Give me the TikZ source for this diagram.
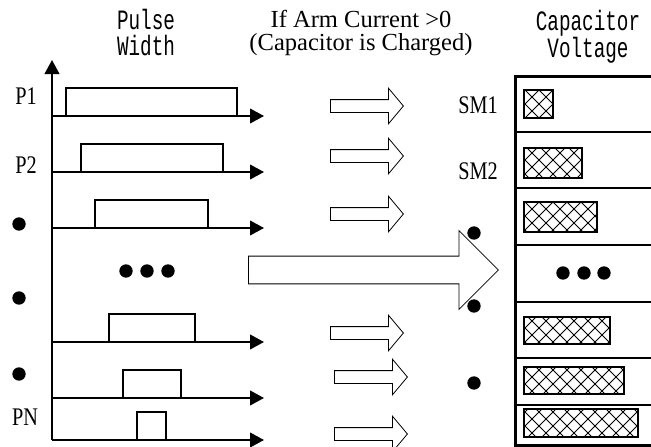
\documentclass[tikz,border=0pt]{standalone}
\usepackage{fontspec}
\setmainfont{Liberation Serif}
\newfontfamily\monofont[FakeStretch=0.69]{Liberation Mono}
\newfontfamily\narrowfont[FakeStretch=0.8]{Liberation Serif}
\usetikzlibrary{arrows.meta,shapes.arrows,patterns.meta}

\tikzdeclarepattern{
  name=xhatch,
  type=uncolored,
  bounding box={(-0.5pt,-0.5pt) and (11pt,11pt)},
  tile size={(10.5pt,10.5pt)},
  code={
    \draw[line width=0.6pt] (0pt,0pt) -- (10.5pt,10.5pt) (0pt,10.5pt) -- (10.5pt,0pt);
  }
}

\begin{document}
\begin{tikzpicture}[x=0.75pt, y=-0.75pt,
    axis/.style={line width=1.5pt, -{Triangle[length=10.5pt, width=11pt]}},
    pulse/.style={line width=1.5pt},
    lbl/.style={font=\narrowfont\fontsize{19}{20}\selectfont, inner sep=0pt},
    head/.style={font=\monofont\fontsize{21}{19.5}\selectfont, align=center, inner sep=0pt},
    note/.style={font=\fontsize{18.4}{17.25}\selectfont, align=center, inner sep=0pt},
    dot/.style={circle, fill, inner sep=0pt, minimum size=10pt},
    smallarr/.style={single arrow, draw, line width=0.6pt, minimum height=54.75pt, inner sep=4.5pt,
        single arrow head extend=8.6pt, single arrow tip angle=100, anchor=tail},
    bigarr/.style={single arrow, draw, line width=0.6pt, minimum height=187.5pt, inner sep=10.1pt,
        single arrow head extend=19.1pt, anchor=tail},
    bar/.style={draw, line width=1.5pt, pattern=xhatch}
]
\useasboundingbox (0,0) rectangle (651,447);

% pulse width side
\draw[axis] (52,440) -- (52,60);
\foreach \y/\w in {116/85.5, 172/71, 228/56.5, 342/43, 398/29, 440/14.5} {
  \draw[axis] (52,\y) -- (264,\y);
  \draw[pulse] (151.5-\w,\y) |- (151.5+\w,\y-28) -- (151.5+\w,\y);
}
\node[lbl] (p1) at (26,96) {P1};
\node[lbl] (p2) at (26,165) {P2};
\node[lbl] (pn) at (25,417) {PN};
\foreach \y [count=\i] in {224,298,374}
  \node[dot] (ld\i) at (19,\y) {};
\foreach \x [count=\i] in {126,147,168}
  \node[dot] (le\i) at (\x,271) {};

% headings
\node[head] (pw) at (146,33) {Pulse\\Width};
\node[note] (cond) at (361,33) {If Arm Current >0\\(Capacitor is Charged)};
\node[head] (cv) at (588,36.5) {Capacitor\\Voltage};

% charging arrows
\foreach \x/\y [count=\i] in {330/106, 330/156, 330/214, 330/333, 334/377, 334/434}
  \node[smallarr] (a\i) at (\x,\y) {};
\node[bigarr] (big) at (248,270) {};

% capacitor voltage side
\node[lbl] (sm1) at (478,105) {SM1};
\node[lbl] (sm2) at (478,171) {SM2};
\foreach \y [count=\i] in {233,306,383}
  \node[dot] (rd\i) at (474,\y) {};
\draw[line width=2.25pt] (651,76) -- (515,76) -- (515,445) -- (651,445);
\foreach \y in {132,188,245,302,358,405}
  \draw[line width=2pt] (515,\y) -- (651,\y);
\foreach \x/\ya/\yb in {553/90/118, 582/148/178, 597/202/232, 610/317/344, 624/367/394, 638/409/437}
  \draw[bar] (524,\ya) rectangle (\x,\yb);
\foreach \x [count=\i] in {563,584,604}
  \node[dot] (re\i) at (\x,273) {};
\end{tikzpicture}
\end{document}
